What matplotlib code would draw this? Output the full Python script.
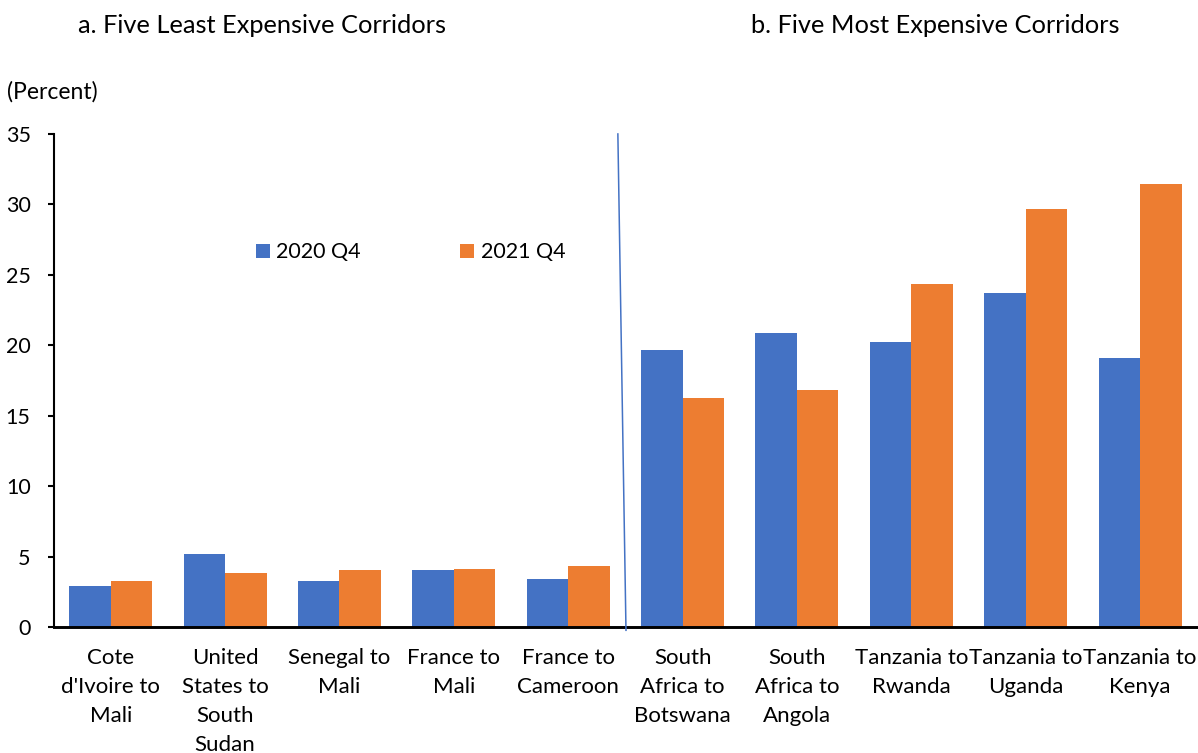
import matplotlib.pyplot as plt
import numpy as np

plt.rcParams['font.family'] = ['Lato', 'DejaVu Sans']

corridors = [
    "Cote\nd'Ivoire to\nMali",
    "United\nStates to\nSouth\nSudan",
    "Senegal to\nMali",
    "France to\nMali",
    "France to\nCameroon",
    "South\nAfrica to\nBotswana",
    "South\nAfrica to\nAngola",
    "Tanzania to\nRwanda",
    "Tanzania to\nUganda",
    "Tanzania to\nKenya",
]
cost_2020q4 = [2.91, 5.23, 3.31, 4.09, 3.43, 19.67, 20.90, 20.24, 23.71, 19.13]
cost_2021q4 = [3.31, 3.86, 4.05, 4.12, 4.37, 16.26, 16.83, 24.35, 29.67, 31.44]
y_ticks = [0, 5, 10, 15, 20, 25, 30, 35]

BLUE = '#4472C4'
ORANGE = '#ED7D31'

fig = plt.figure(figsize=(11.98, 7.53), dpi=100)
ax = fig.add_axes([0.0447, 0.1667, 0.9547, 0.6554])

x = np.arange(len(corridors))
w = 0.363
ax.bar(x - w / 2, cost_2020q4, width=w, color=BLUE, label='2020 Q4')
ax.bar(x + w / 2, cost_2021q4, width=w, color=ORANGE, label='2021 Q4')

# separator between the two panels
ax.plot([4.434, 4.505], [35, -0.2], color=BLUE, linewidth=1.1, clip_on=False, zorder=5)

ax.set_xlim(-0.5, 9.5)
ax.set_ylim(0, 35)
ax.set_yticks(y_ticks)
ax.tick_params(axis='y', labelsize=15.5, length=4.5, width=1.5, direction='out', pad=12)
ax.set_xticks(x)
ax.set_xticklabels(corridors, fontsize=16, linespacing=1.55, va='top')
ax.tick_params(axis='x', length=0, pad=15)

for side in ['top', 'right']:
    ax.spines[side].set_visible(False)
ax.spines['left'].set_linewidth(1.5)
ax.spines['bottom'].set_linewidth(2.1)

fig.text(0.006, 0.878, '(Percent)', fontsize=16.5, ha='left', va='center')
fig.text(0.219, 0.9655, 'a. Five Least Expensive Corridors', fontsize=18.3, ha='center', va='center')
fig.text(0.781, 0.9655, 'b. Five Most Expensive Corridors', fontsize=18.3, ha='center', va='center')

ax.legend(loc='center', bbox_to_anchor=(0.3427, 0.665), bbox_transform=fig.transFigure,
          ncol=2, frameon=False, fontsize=15.5, handlelength=0.65, handleheight=0.65,
          handletextpad=0.3, columnspacing=4.6)

fig.savefig('out.png', dpi=100)
